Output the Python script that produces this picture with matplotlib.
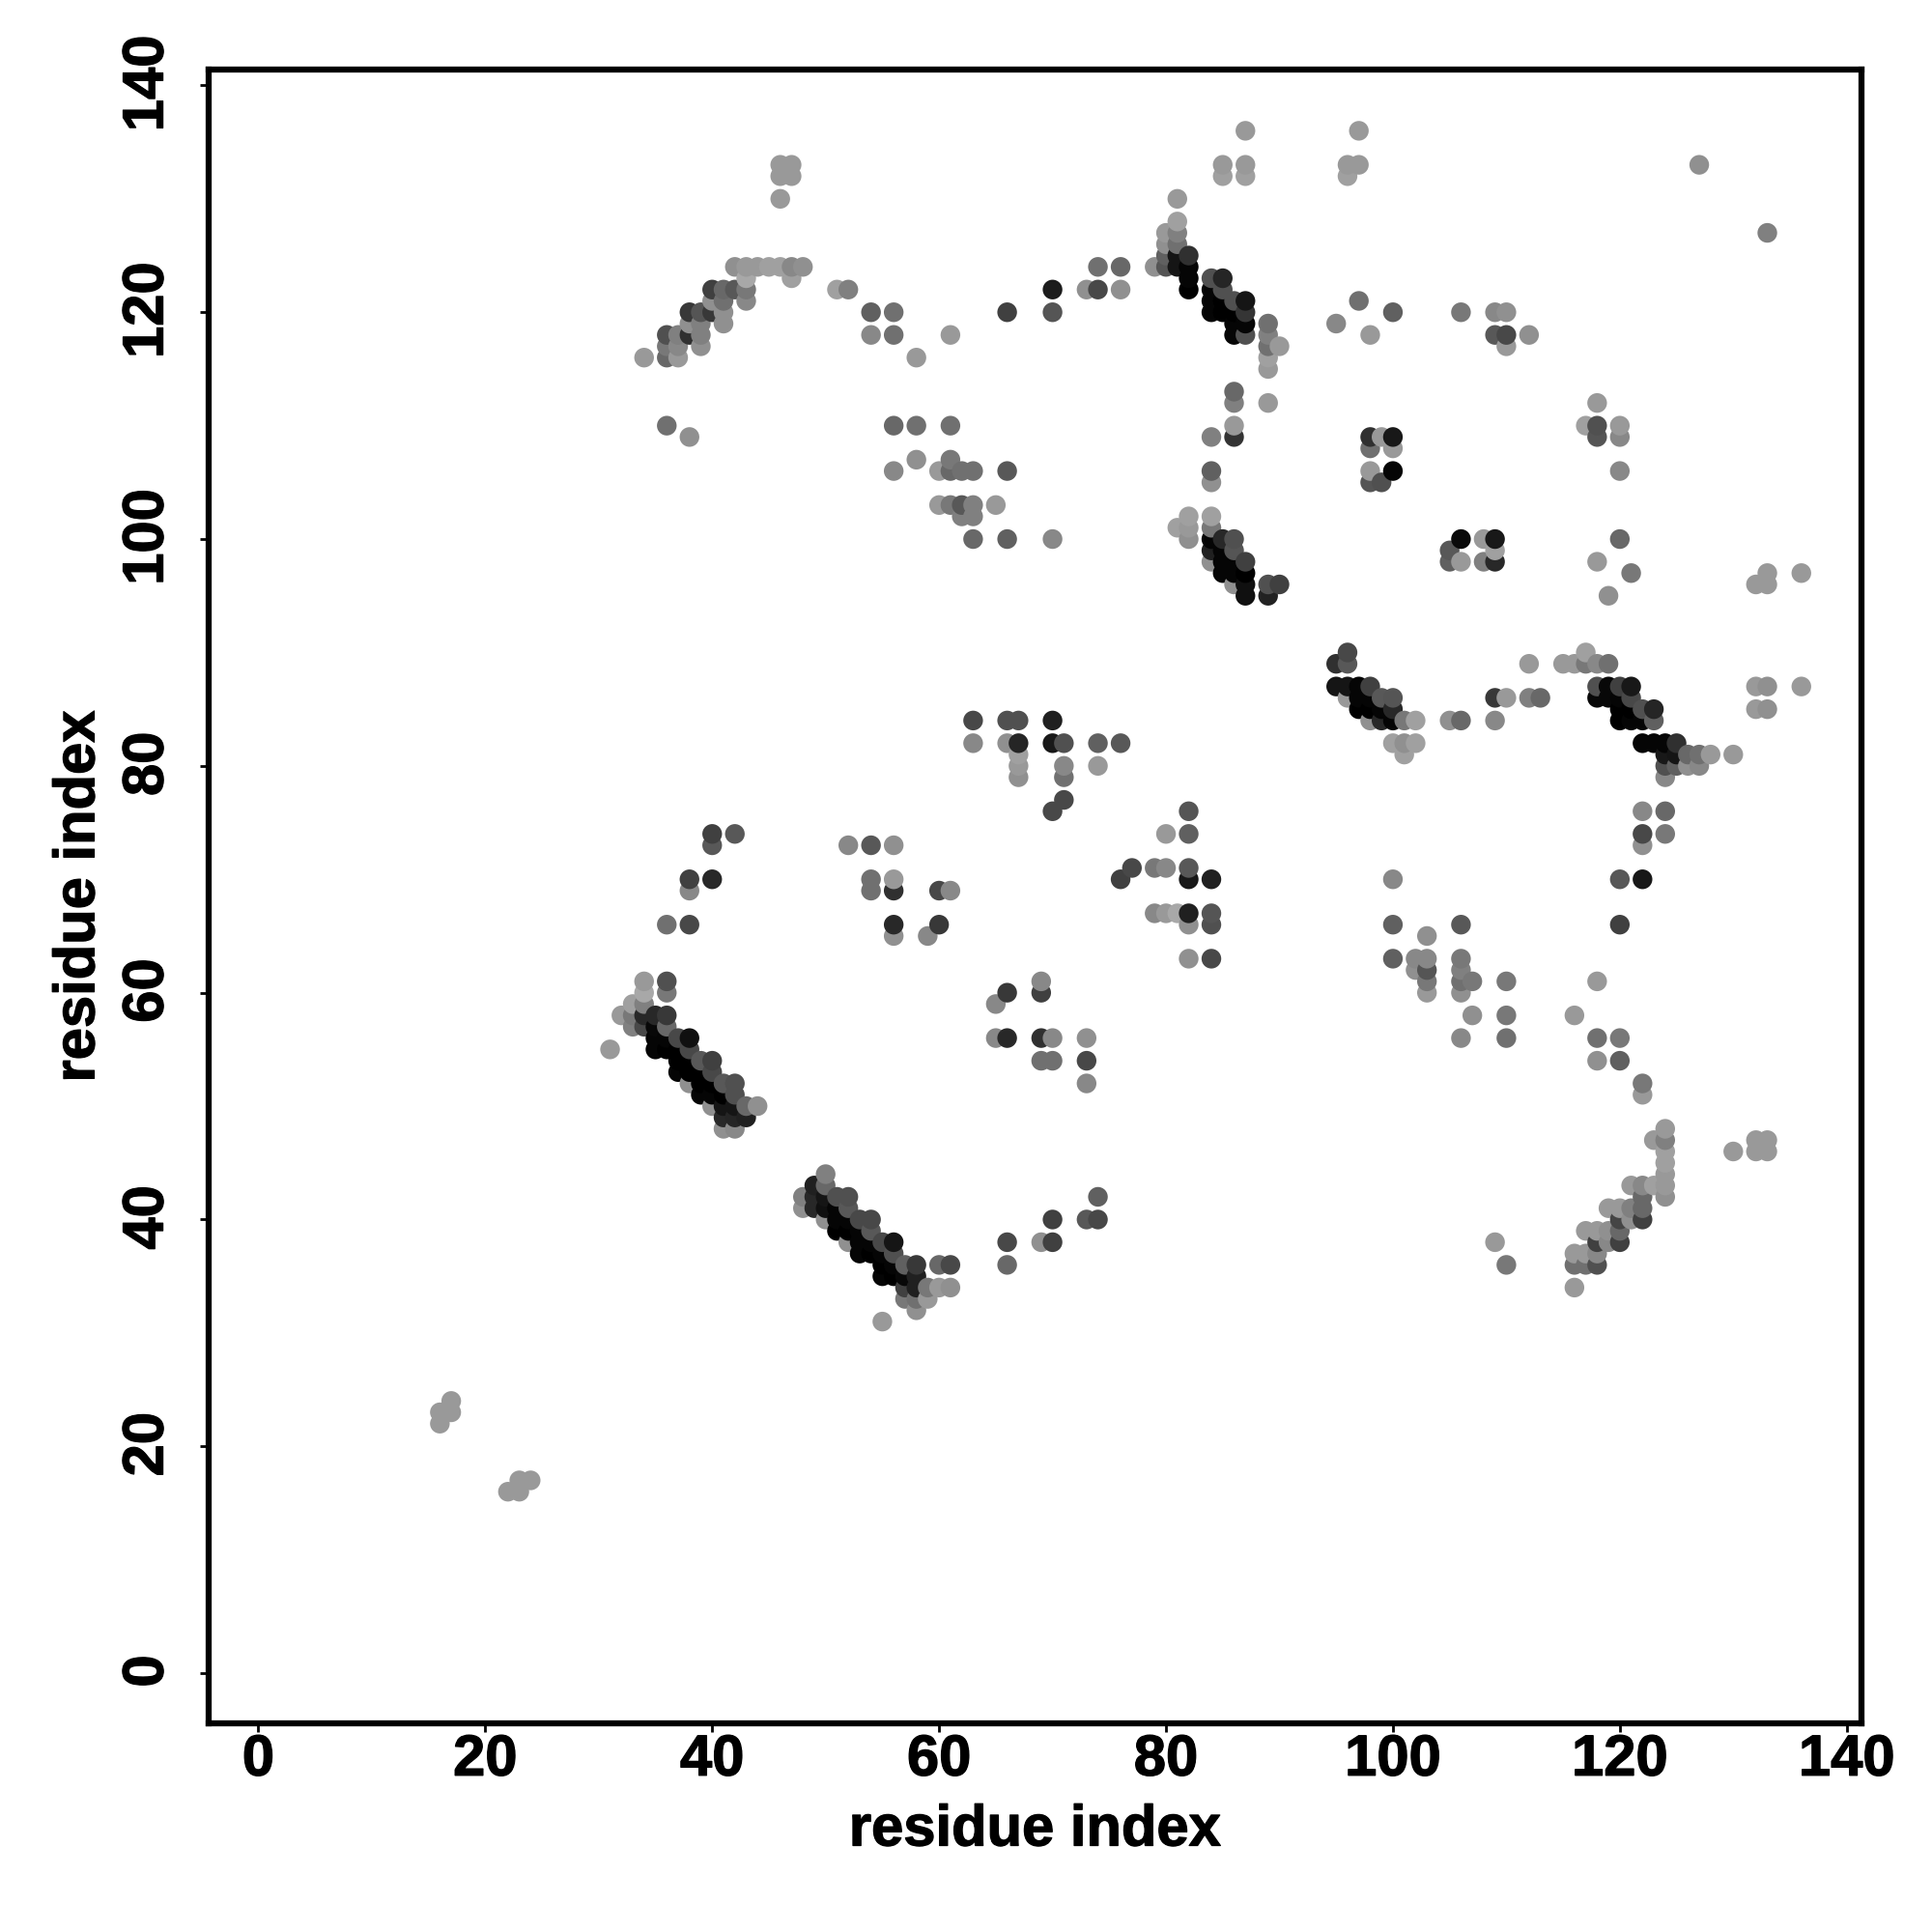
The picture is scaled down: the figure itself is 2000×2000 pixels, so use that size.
import numpy as np
import matplotlib
matplotlib.use("Agg")
import matplotlib.pyplot as plt
import matplotlib.patheffects as pe
from matplotlib.transforms import ScaledTranslation

tick_values = [0, 20, 40, 60, 80, 100, 120, 140]
x_title = "residue index"
y_title = "residue index"

# one entry per row of the map (a y value may repeat per region); x values and grey shades match by position
row_y = [
    136, 133, 132, 130, 128, 127, 126, 125, 124, 123, 122, 121, 120, 119, 118, 117, 116, 115, 113, 112, 110, 109, 106, 105,
    121, 120, 119, 118, 117, 109, 108, 106, 105,
    124, 122, 120,
    124, 123, 122, 121, 120, 119, 118, 117, 116, 110, 109,
    107, 106, 103, 102, 100,
    102, 101, 100, 99, 98, 97, 96, 95,
    112, 110, 109, 106, 100, 99, 98, 97, 96, 95,
    90, 89, 87, 86, 85, 84, 82, 81, 80, 79, 76,
    74, 73, 70, 66, 65, 63, 62, 61, 60, 58, 56, 54, 52, 51,
    48, 47, 46, 45, 44, 43, 42, 41, 40, 39, 38, 37, 36, 34,
    84, 82, 81, 80, 79, 77, 76, 74, 71, 70, 67, 66, 63, 69, 66, 65, 61, 60, 59, 56, 54, 52,
    74, 73, 70, 69, 66, 65,
    61, 60, 59, 58, 57, 56, 55, 54, 53, 52, 51, 50, 49, 48,
    44, 43, 42, 41, 40, 39, 38, 37, 36, 35, 34, 33, 32, 31,
    40, 38, 36, 42,
    24, 23, 22, 17, 16,
    127,
]
row_x = [
    [87, 97], [85, 87, 96, 97, 46, 47, 127], [85, 87, 96, 46, 47], [81, 46], [81], [80, 81], [80, 81], [80, 81, 82], [79, 80, 81, 82], [82, 84, 85], [82, 84, 85], [84, 85, 86, 87], [84, 85, 86, 87], [86, 87, 89], [86, 87, 89], [89, 90], [89], [89], [86], [86, 89], [86], [84, 86], [84], [84],
    [97], [100, 106, 109, 110], [95], [98, 109, 110, 112], [110], [98, 99, 100], [98, 100], [98, 100], [98, 99],
    [74, 76], [70, 73, 74, 76], [66, 70],
    [42, 43, 44, 45, 46, 47, 48], [43, 47], [40, 41, 42, 43, 51, 52], [40, 41, 43], [38, 39, 40, 41, 54, 56], [38, 39, 41], [36, 37, 38, 39, 54, 56, 61], [36, 37, 39], [34, 36, 37, 58], [36, 56, 58, 61], [38],
    [58, 61], [56, 60, 61, 62, 63, 66], [60, 61, 62, 63, 65], [62, 63], [63, 66, 70],
    [82, 84], [81, 82, 84], [82, 84, 85, 86], [84, 85, 86], [84, 85, 86, 87], [85, 86, 87], [86, 87, 89, 90], [87, 89],
    [118], [117, 118, 120], [118, 120], [120], [106, 108, 109, 120], [105, 109], [105, 106, 108, 109, 118], [121, 133, 136], [132, 133], [119],
    [96, 117], [95, 96, 112, 115, 116, 117, 118, 119], [95, 96, 97, 98, 118, 119, 120, 121, 132, 133, 136], [96, 97, 98, 99, 100, 109, 110, 112, 113, 118, 119, 120, 121], [97, 98, 99, 100, 120, 121, 122, 123, 132, 133], [98, 99, 100, 101, 102, 105, 106, 109, 120, 121, 122, 123], [100, 101, 102, 122, 123, 124, 125], [101, 124, 125, 126, 127, 128, 130], [124, 125, 126, 127], [124], [122, 124],
    [122, 124], [122], [120, 122, 100], [120, 100, 106], [103], [100, 102, 103, 106], [102, 103, 106], [103, 106, 107, 110, 118], [103, 106], [107, 110, 116], [106, 110, 118, 120], [118, 120], [122], [122],
    [124], [123, 124, 132, 133], [124, 130, 132, 133], [124], [124], [121, 122, 123, 124], [122, 124], [119, 120, 121, 122], [120, 121, 122], [117, 118, 119, 120], [109, 118, 119, 120], [116, 117, 118], [110, 116, 117, 118], [116],
    [63, 66, 67, 70], [63, 66, 67, 70, 71, 74, 76], [67], [67, 71, 74], [67, 71], [71], [70, 82], [80, 82], [77, 79, 80, 82], [76, 82, 84], [79, 80, 81, 82, 84], [82, 84], [82, 84], [60, 61], [60], [59], [69], [66, 69], [65], [65, 66, 69, 70, 73], [69, 70, 73], [73],
    [40, 42], [40, 52, 54, 56], [38, 40, 54, 56], [38, 54, 56], [36, 38, 56], [56],
    [34, 36], [34, 36], [33, 34], [32, 33, 34, 35, 36], [33, 34, 35, 36], [35, 36, 37, 38], [31, 35, 36, 37, 38], [37, 38, 39, 40], [37, 38, 39, 40], [38, 39, 40, 41, 42], [39, 40, 41, 42], [40, 41, 42, 43, 44], [41, 42, 43], [41, 42],
    [50], [49, 50], [48, 49, 50, 51, 52], [48, 49, 50, 51, 52], [50, 51, 52, 53, 54], [51, 52, 53, 54], [52, 53, 54, 55, 56], [53, 54, 55, 56], [55, 56, 57, 58, 60, 61], [55, 56, 57, 58], [57, 58, 59, 60, 61], [57, 58, 59], [58], [55],
    [70, 73, 74], [66, 69, 70], [66], [74],
    [17], [16, 17], [16], [23, 24], [22, 23],
    [133],
]
row_shade = [
    [0x99, 0x99], [0x99, 0x99, 0x99, 0x99, 0x99, 0x99, 0x90], [0xA0, 0xA0, 0xA0, 0x99, 0x99], [0x99, 0x99], [0xA0], [0x99, 0x80], [0x90, 0x70], [0x60, 0x15, 0x30], [0x90, 0x55, 0x15, 0x05], [0x05, 0x50, 0x25], [0x00, 0x05, 0x50], [0x05, 0x00, 0x50, 0x15], [0x05, 0x00, 0x00, 0x35], [0x05, 0x05, 0x70], [0x05, 0x50, 0x80], [0x70, 0x99], [0xA0], [0x99], [0x68], [0x80, 0x99], [0x99], [0x80, 0x33], [0x60], [0x90],
    [0x70], [0x60, 0x78, 0x88, 0x90], [0x88], [0x99, 0x58, 0x48, 0x90], [0x99], [0x30, 0x99, 0x18], [0x70, 0x99], [0x99, 0x05], [0x55, 0x50],
    [0x70, 0x68], [0x1C, 0x90, 0x48, 0x90], [0x40, 0x55],
    [0x90, 0x99, 0x99, 0xA0, 0xA0, 0x88, 0x90], [0xA8, 0xA0], [0x40, 0x68, 0x58, 0x78, 0xA0, 0x80], [0x90, 0x70, 0x88], [0x38, 0x55, 0x38, 0x90, 0x60, 0x70], [0x90, 0x80, 0x90], [0x50, 0x80, 0x30, 0x80, 0x88, 0x70, 0x99], [0x78, 0x88, 0x90], [0x99, 0x68, 0x99, 0x99], [0x70, 0x68, 0x70, 0x70], [0x90],
    [0x90, 0x78], [0x88, 0x99, 0x68, 0x70, 0x70, 0x58], [0x99, 0x78, 0x58, 0x80, 0x99], [0x80, 0x80], [0x68, 0x60, 0x88],
    [0xA0, 0xA0], [0xA0, 0x99, 0x78], [0x90, 0x05, 0x28, 0x50], [0x20, 0x05, 0x55], [0x90, 0x05, 0x05, 0x40], [0x05, 0x05, 0x00], [0x90, 0x10, 0x50, 0x40], [0x10, 0x22],
    [0x99], [0xA0, 0x50, 0x99], [0x55, 0x88], [0x88], [0x0A, 0x99, 0x18, 0x68], [0x58, 0xA0], [0x60, 0x99, 0x80, 0x28, 0x99], [0x78, 0x99, 0x99], [0x99, 0x99], [0x90],
    [0x48, 0xA0], [0x30, 0x58, 0x99, 0x99, 0x99, 0x78, 0x88, 0x70], [0x15, 0x15, 0x05, 0x40, 0x50, 0x08, 0x40, 0x18, 0x99, 0x90, 0x99], [0x99, 0x05, 0x05, 0x58, 0x55, 0x38, 0x99, 0x80, 0x68, 0x08, 0x08, 0x05, 0x48], [0x00, 0x00, 0x05, 0x28, 0x00, 0x00, 0x50, 0x25, 0x99, 0x90], [0x90, 0x28, 0x05, 0x78, 0xA0, 0x90, 0x68, 0x88, 0x00, 0x05, 0x05, 0x60], [0xA0, 0x90, 0xA0, 0x05, 0x05, 0x05, 0x30], [0xA0, 0x18, 0x15, 0x68, 0x70, 0x99, 0x99], [0x50, 0x60, 0x90, 0x88], [0x88], [0x88, 0x68],
    [0x48, 0x78], [0x90], [0x58, 0x18, 0x88], [0x40, 0x60, 0x58], [0x90], [0x60, 0x88, 0x88, 0x78], [0x90, 0x55, 0x80], [0x78, 0x70, 0x78, 0x78, 0x99], [0x99, 0x90], [0x90, 0x78, 0x99], [0x88, 0x70, 0x70, 0x78], [0x90, 0x60], [0x78], [0x99],
    [0x99], [0x99, 0x80, 0x99, 0x99], [0xA0, 0x99, 0x99, 0x99], [0xA0], [0x99], [0x99, 0x88, 0xA0, 0x99], [0x68, 0x90], [0x99, 0x99, 0x80, 0x68], [0x45, 0x90, 0x40], [0x99, 0x99, 0x90, 0x68], [0x99, 0x40, 0x88, 0x40], [0x99, 0x99, 0x88], [0x78, 0x70, 0x70, 0x50], [0x99],
    [0x48, 0x50, 0x50, 0x20], [0x88, 0x90, 0x25, 0x18, 0x50, 0x60, 0x58], [0xA0], [0x99, 0x88, 0x99], [0x90, 0x70], [0x48], [0x48, 0x55], [0x99, 0x60], [0x48, 0x78, 0x88, 0x58], [0x40, 0x18, 0x20], [0x88, 0x99, 0xA8, 0x20, 0x55], [0x90, 0x50], [0x90, 0x48], [0x48, 0x88], [0x38], [0x88], [0x88], [0x38, 0x40], [0x88], [0x88, 0x28, 0x30, 0x88, 0x90], [0x70, 0x70, 0x48], [0x88],
    [0x40, 0x58], [0x58, 0x88, 0x58, 0x90], [0x40, 0x28, 0x70, 0x99], [0x88, 0x70, 0x30], [0x70, 0x48, 0x28], [0x90],
    [0x99, 0x50], [0xA8, 0x78], [0xA0, 0x80], [0x99, 0x78, 0x28, 0x28, 0x38], [0x80, 0x48, 0x08, 0x68], [0x05, 0x05, 0x48, 0x10], [0x99, 0x05, 0x00, 0x00, 0x48], [0x00, 0x00, 0x58, 0x40], [0x05, 0x00, 0x00, 0x48], [0x90, 0x00, 0x00, 0x58, 0x50], [0x05, 0x05, 0x00, 0x50], [0x90, 0x15, 0x15, 0x68, 0x90], [0x28, 0x25, 0x20], [0x90, 0x88],
    [0x80], [0x20, 0x68], [0x80, 0x28, 0x15, 0x50, 0x50], [0x90, 0x28, 0x10, 0x05, 0x58], [0x90, 0x05, 0x05, 0x48, 0x48], [0x00, 0x00, 0x05, 0x58], [0x90, 0x05, 0x05, 0x48, 0x15], [0x05, 0x00, 0x05, 0x50], [0x00, 0x05, 0x60, 0x38, 0x68, 0x48], [0x05, 0x00, 0x08, 0x20], [0x40, 0x20, 0x78, 0x99, 0x90], [0x78, 0x70, 0x99], [0x90], [0x99],
    [0x40, 0x58, 0x48], [0x48, 0x90, 0x40], [0x68], [0x60],
    [0x99], [0x99, 0x99], [0x99], [0x99, 0x99], [0x99, 0x99],
    [0x80],
]

for row, xs, shades in zip(row_y, row_x, row_shade):
    assert len(xs) == len(shades), (row, xs, shades)
assert len(row_y) == len(row_x) == len(row_shade), (len(row_y), len(row_x), len(row_shade))

res_x = np.array([v for xs in row_x for v in xs], dtype=float)
res_y = np.array([y for y, xs in zip(row_y, row_x) for _ in xs], dtype=float)
grey = np.array([v for s in row_shade for v in s], dtype=float) / 255.0
order = np.lexsort((res_y, res_x))

plt.rcParams["font.family"] = ["Liberation Sans", "DejaVu Sans"]
plt.rcParams["font.weight"] = "bold"

fig = plt.figure(figsize=(20, 20), dpi=100, facecolor="white")
ax_top = 72.0
ax_bottom = 1783.7
ax = fig.add_axes([216 / 2000, 1 - ax_bottom / 2000, (1927 - 216) / 2000, (ax_bottom - ax_top) / 2000])
ax.scatter(res_x[order], res_y[order], s=215, c=np.repeat(grey[order][:, None], 3, axis=1), linewidths=0, zorder=3)

ax.set_xlim(-4.38, 141.3)
ax.set_ylim(-4.4, 141.4)
ax.set_xticks(tick_values)
ax.set_yticks(tick_values)
ax.set_xticklabels([str(t) for t in tick_values])
ax.set_yticklabels([str(t) for t in tick_values], rotation=90, va="center")
for s in ax.spines.values():
    s.set_linewidth(4.5)
ax.tick_params(axis="x", length=6.5, width=2, labelsize=43, pad=1.5)
ax.tick_params(axis="y", length=6.5, width=2, labelsize=43, pad=19)
ax.set_xlabel(x_title, fontsize=43, fontweight="bold")
ax.set_ylabel(y_title, fontsize=43, fontweight="bold")
ax.xaxis.set_label_coords(0.5, (ax_bottom - 1895) / (ax_bottom - ax_top))
ax.yaxis.set_label_coords((82 - 216) / (1927 - 216), 0.5)
ax.xaxis.label.set_verticalalignment("center")
ax.yaxis.label.set_verticalalignment("center")

heavier = [pe.withStroke(linewidth=0.9, foreground="black")]
shift_up = ScaledTranslation(0, 1.5 / 72, fig.dpi_scale_trans)
for lab in ax.get_yticklabels():
    lab.set_transform(lab.get_transform() + shift_up)
    lab.set_path_effects(heavier)
for lab in ax.get_xticklabels():
    lab.set_path_effects(heavier)
ax.xaxis.label.set_path_effects(heavier)
ax.yaxis.label.set_path_effects(heavier)

fig.savefig("out.png", dpi=100, facecolor="white")
